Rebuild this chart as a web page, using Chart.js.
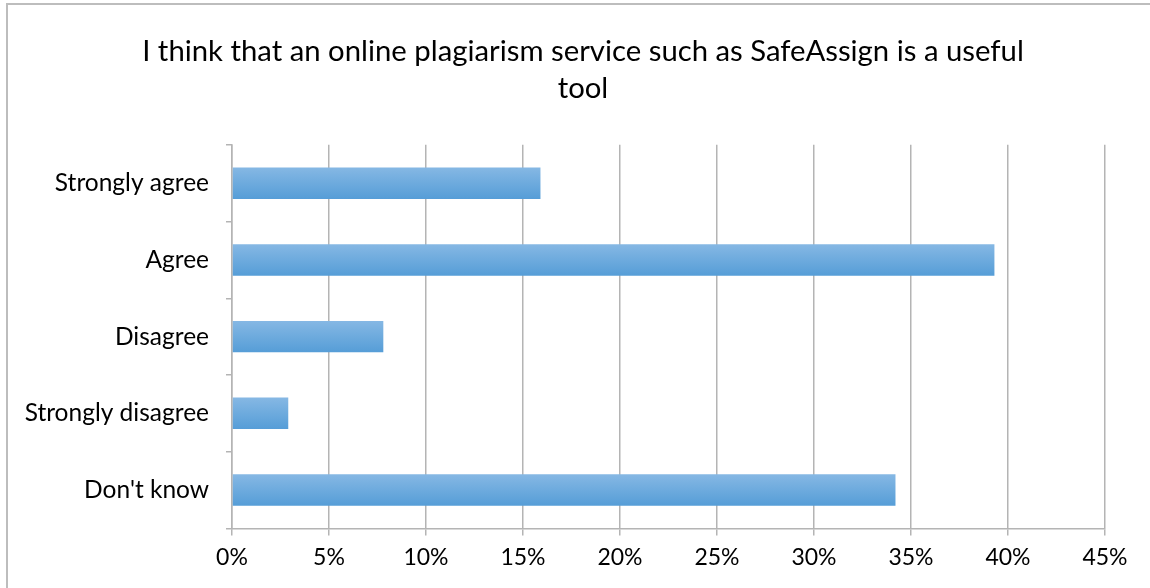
<!DOCTYPE html>
<html>
<head>
<meta charset="utf-8">
<script src="https://cdn.jsdelivr.net/npm/chart.js@4/dist/chart.umd.min.js"></script>
<style>
  html, body { margin: 0; padding: 0; background: #fff; overflow: hidden; }
  #frame {
    position: absolute; left: 6px; top: 3px; width: 1200px; height: 700px;
    border-left: 2px solid #bdbdbd; border-top: 2px solid #bdbdbd;
  }
  #wrap { position: absolute; left: 0; top: 0; width: 1150px; height: 588px; }
</style>
</head>
<body>
<div id="frame"></div>
<div id="wrap"><canvas id="chart"></canvas></div>
<script>
// chart data
const categories = ['Strongly agree', 'Agree', 'Disagree', 'Strongly disagree', "Don't know"];
const percentages = [15.9, 39.3, 7.8, 2.9, 34.2];
const titleLines = ['I think that an online plagiarism service such as SafeAssign is a useful', 'tool'];

const fontFamily = 'Lato, "Noto Sans", sans-serif';

// vertical gradient for each bar, lighter on top
function barGradient(ctx) {
    const chart = ctx.chart;
    const y = chart.scales.y;
    if (!y || ctx.dataIndex === undefined) return '#6aa9de';
    const center = y.getPixelForValue(ctx.dataIndex);
    if (!isFinite(center)) return '#6aa9de';
    const half = 16;
    const g = chart.ctx.createLinearGradient(0, center - half, 0, center + half);
    g.addColorStop(0, '#86b8e4');
    g.addColorStop(1, '#559dd7');
    return g;
}

new Chart(document.getElementById('chart'), {
    type: 'bar',
    data: {
        labels: categories,
        datasets: [{
            data: percentages,
            backgroundColor: barGradient,
            borderWidth: 0,
            barPercentage: 0.82,
            categoryPercentage: 0.5
        }]
    },
    options: {
        indexAxis: 'y',
        responsive: true,
        maintainAspectRatio: false,
        animation: false,
        layout: { padding: { top: 20, right: 0, bottom: 9, left: 16 } },
        plugins: {
            legend: { display: false },
            tooltip: { enabled: false },
            title: {
                display: true,
                text: titleLines,
                color: '#000',
                font: { family: fontFamily, size: 29.3, weight: 'normal', lineHeight: 1.26 },
                padding: { top: 13.5, bottom: 37.5 }
            }
        },
        scales: {
            x: {
                min: 0,
                max: 45,
                // keep the plot clear of the right edge like the original
                afterFit: scale => { scale.paddingRight = 45; },
                ticks: {
                    stepSize: 5,
                    color: '#000',
                    padding: 8,
                    font: { family: fontFamily, size: 23 },
                    callback: v => v + '%'
                },
                grid: { color: '#b4b4b4', lineWidth: 1.5, tickLength: 7 },
                border: { color: '#b4b4b4', width: 1.5 }
            },
            y: {
                afterFit: scale => { scale.width = 216; },
                ticks: {
                    color: '#000',
                    padding: 17,
                    font: { family: fontFamily, size: 24.5 }
                },
                grid: { drawOnChartArea: false, color: '#b4b4b4', lineWidth: 1.5, tickLength: 6 },
                border: { color: '#b4b4b4', width: 1.5 }
            }
        }
    }
});
</script>
</body>
</html>
